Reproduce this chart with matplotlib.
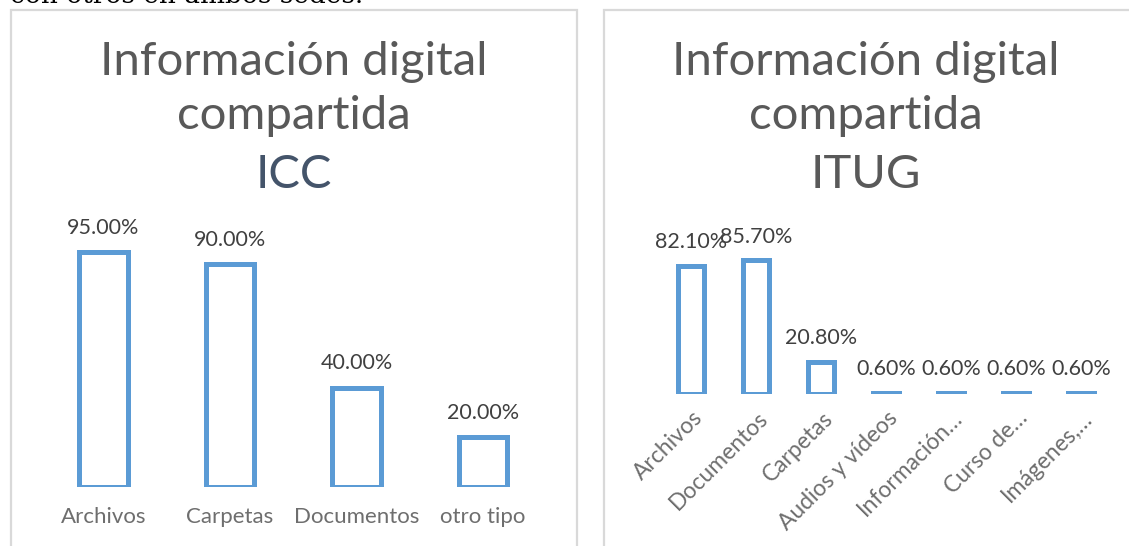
import matplotlib
matplotlib.use("Agg")
import matplotlib.pyplot as plt
from matplotlib.patches import Rectangle

W, H = 1129, 546

# ICC
icc_cats = ["Archivos", "Carpetas", "Documentos", "otro tipo"]
icc_vals = [95.0, 90.0, 40.0, 20.0]

# ITUG
itug_cats = ["Archivos", "Documentos", "Carpetas", "Audios y vídeos",
             "Información…", "Curso de…", "Imágenes,…"]
itug_vals = [82.1, 85.7, 20.8, 0.6, 0.6, 0.6, 0.6]

title_lines = ["Información digital", "compartida"]

BLUE = "#5B9BD5"
TITLE_GREY = "#595959"
LABEL_GREY = "#404040"
AXIS_GREY = "#6E6E6E"
BOX_GREY = "#D9D9D9"
FONT = "Lato"

plt.rcParams['font.family'] = [FONT, 'DejaVu Sans']

fig = plt.figure(figsize=(W / 100, H / 100), dpi=100)


def px_axes(x0, y_top, x1, y_bot):
    # axes placed by pixel edges, measured from the top-left corner
    return fig.add_axes([x0 / W, 1 - y_bot / H, (x1 - x0) / W, (y_bot - y_top) / H])


def px_text(x, y, s, **kw):
    fig.text(x / W, 1 - y / H, s, **kw)


# running text of the page above the charts, cut by the top edge
px_text(10, 3, "con otros en ambos sedes.", family="DejaVu Serif", fontsize=19,
        color="black", ha="left", va="baseline")

# chart frames
for x0, x1 in [(11, 577), (604, 1140)]:
    fig.patches.append(Rectangle((x0 / W, -0.1), (x1 - x0) / W, 1.1 - 10 / H,
                                 transform=fig.transFigure, fill=False,
                                 edgecolor=BOX_GREY, linewidth=1.6))


def titles(cx, size):
    px_text(cx, 62, title_lines[0], fontsize=size, color=TITLE_GREY, ha="center", va="center")
    px_text(cx, 116, title_lines[1], fontsize=size, color=TITLE_GREY, ha="center", va="center")


def bar_chart(ax, cats, vals, width, lw, label_off):
    x = range(len(cats))
    ax.bar(x, vals, width=width, facecolor="white", edgecolor=BLUE, linewidth=lw)
    for i, v in zip(x, vals):
        ax.annotate(f"{v:.2f}%", xy=(i, v), xytext=(0, label_off), textcoords="offset points",
                    ha="center", va="center", fontsize=15.5, color=LABEL_GREY)
    ax.set_xlim(-0.5, len(cats) - 0.5)
    ax.set_ylim(0, 100)
    ax.set_yticks([])
    for s in ax.spines.values():
        s.set_visible(False)
    ax.patch.set_alpha(0)


# left: ICC
ax1 = px_axes(40.25, 239.5, 546.25, 486.5)
bar_chart(ax1, icc_cats, icc_vals, 0.38, 3.6, 17.5)
ax1.set_xticks(range(len(icc_cats)))
ax1.set_xticklabels(icc_cats, fontsize=16, color=AXIS_GREY)
ax1.tick_params(axis="x", length=0, pad=15)
titles(294, 34)
px_text(294, 175, "ICC", fontsize=34, color="#44546A", ha="center", va="center")

# right: ITUG
ax2 = px_axes(659, 238, 1113.5, 394)
bar_chart(ax2, itug_cats, itug_vals, 0.4, 3.6, 17)
ax2.set_xticks([])
for i, lab in enumerate(itug_cats):
    ax2.annotate(lab, xy=(i, 0), xycoords=("data", "axes fraction"), xytext=(6, -15),
                 textcoords="offset points", rotation=45, rotation_mode="anchor",
                 ha="right", va="center", fontsize=16.5, color=AXIS_GREY)
titles(866, 34)
px_text(866, 175, "ITUG", fontsize=34, color=TITLE_GREY, ha="center", va="center")

fig.savefig("out.png", dpi=100)
